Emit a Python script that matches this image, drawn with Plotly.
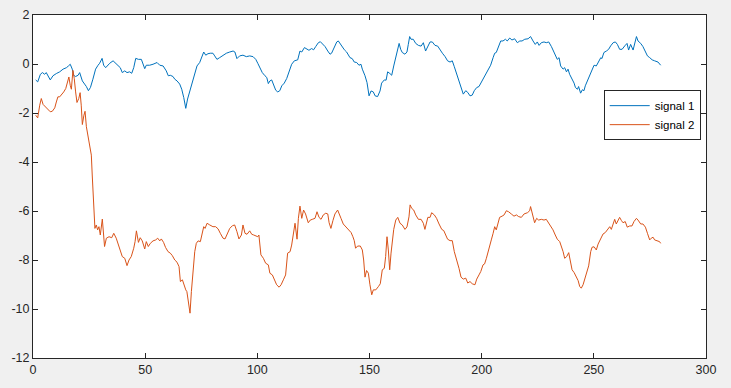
import plotly.graph_objects as go

# signal 1 (blue) vertices
s1_x = [1.2, 2.1, 3.3, 4.2, 5.2, 5.9, 7.7, 8.9, 10.4, 11.9, 13.4, 14.9, 15.8, 16.6, 17.5, 18.1, 19.0, 20.1, 20.8,
        22.0, 23.0, 23.8, 24.7, 25.6, 26.7, 27.9, 29.0, 29.7, 30.8, 31.5, 32.4, 34.2, 35.7, 37.1, 38.9, 39.8, 40.9,
        41.9, 43.1, 44.0, 44.9, 45.8, 47.0, 48.3, 49.8, 50.5, 52.0, 53.5, 55.3, 56.5, 58.0, 59.4, 60.3, 61.2, 62.4,
        63.2, 64.2, 65.4, 66.3, 67.2, 68.1, 68.9, 69.8, 70.7, 71.6, 72.5, 73.1, 74.3, 75.0, 76.1, 77.0, 78.0, 79.0,
        80.2, 81.0, 82.0, 83.2, 84.7, 86.2, 87.7, 89.2, 90.0, 90.9, 92.1, 93.6, 95.1, 96.6, 98.1, 99.3,
        100.2, 101.2, 102.2, 103.4, 104.2, 104.9, 105.6, 106.4, 107.1, 108.2, 109.1, 110.0, 110.9, 112.0, 113.1,
        114.1, 115.3, 116.5, 118.0, 119.0, 119.8, 121.0, 122.0, 123.0, 124.2, 125.1, 126.0, 127.2, 128.1, 129.0,
        130.2, 131.4, 132.4, 133.1, 134.3, 135.4, 136.1, 137.0, 137.9, 138.8, 139.8, 140.6, 141.3, 142.3, 143.2,
        144.3, 145.3, 146.2, 146.8, 148.0, 148.9, 149.8, 150.7, 151.7, 152.5, 153.6, 154.7, 155.4, 156.6, 157.4,
        158.1, 159.1, 159.9, 160.8, 161.7, 162.6, 163.2, 163.9, 164.6, 165.8, 166.7, 167.3, 167.9, 168.5, 169.5,
        170.6, 171.8, 173.0, 174.0, 175.0, 176.0, 177.0, 178.0, 179.2, 180.4, 181.4, 182.5, 183.7, 184.8, 185.9,
        186.9, 187.8, 188.9, 189.9, 190.8, 191.8, 192.9, 193.8, 194.8, 195.8, 196.7, 197.8, 198.8,
        199.6, 200.6, 201.6, 202.8, 204.0, 205.1, 205.8, 206.5, 207.6, 208.5, 209.5, 210.6, 211.4, 212.5, 213.5,
        214.7, 215.9, 217.0, 218.0, 219.2, 220.7, 221.8, 222.9, 223.9, 224.8, 225.6, 226.6, 227.8, 228.8, 229.9,
        231.1, 232.3, 232.8, 233.7, 234.5, 235.2, 236.3, 237.0, 237.8, 238.5, 239.2, 240.3, 241.2, 241.8, 242.7,
        243.2, 244.1, 244.9, 245.6, 246.2, 247.1, 248.1, 249.2, 250.1, 251.1, 251.9, 253.1, 253.6, 254.5, 255.6,
        256.6, 257.5, 258.6, 259.6, 260.5, 261.5, 262.6, 263.8, 264.8, 265.5, 266.4, 267.5, 268.2, 269.0, 269.7,
        270.9, 271.9, 273.0, 273.9, 274.9, 276.0, 277.1, 278.6, 279.8]
s1_y = [-0.65, -0.73, -0.42, -0.35, -0.42, -0.35, -0.65, -0.48, -0.39, -0.32, -0.21, -0.15, -0.08, -0.01, -0.21,
        -0.46, -0.51, -0.46, -0.35, -0.69, -0.82, -0.92, -1.09, -0.96, -0.62, -0.21, -0.05, 0.03, 0.23, -0.05, -0.15,
        0.03, 0.13, -0.01, -0.15, -0.35, -0.28, -0.35, -0.32, -0.38, -0.15, 0.23, 0.19, 0.19, -0.19, -0.05, -0.05,
        -0.01, 0.06, -0.05, -0.08, -0.28, -0.48, -0.46, -0.51, -0.62, -0.69, -0.82, -1.03, -1.37, -1.81, -1.43,
        -1.16, -0.89, -0.62, -0.35, -0.08, 0.06, 0.22, 0.49, 0.36, 0.42, 0.44, 0.44, 0.33, 0.19, 0.26, 0.36, 0.44,
        0.49, 0.53, 0.49, 0.22, 0.33, 0.36, 0.30, 0.33, 0.30, 0.19,
        0.03, -0.15, -0.35, -0.48, -0.55, -0.80, -0.69, -0.65, -0.82, -1.07, -1.14, -1.09, -0.89, -0.78, -0.59,
        -0.28, -0.01, 0.13, 0.17, 0.53, 0.49, 0.67, 0.60, 0.56, 0.63, 0.58, 0.71, 0.87, 0.91, 0.84, 0.71, 0.53,
        0.40, 0.44, 0.71, 0.90, 0.94, 0.80, 0.71, 0.58, 0.49, 0.33, 0.26, 0.22, 0.08, 0.06, -0.05, -0.01, -0.21,
        -0.48, -0.76, -1.30, -1.10, -1.14, -1.30, -1.33, -1.10, -0.78, -0.65, -0.66, -0.32, -0.39, -0.46, -0.08,
        0.26, 0.60, 0.84, 0.60, 0.47, 0.40, 0.49, 0.80, 1.12, 1.01, 1.01, 0.84, 0.76, 0.73, 0.87, 0.53, 0.73, 0.90,
        0.90, 0.76, 0.73, 0.58, 0.44, 0.30, 0.13, 0.08, 0.13, -0.11, -0.42, -0.76, -1.03, -1.23, -1.09, -1.16,
        -1.30, -1.27, -1.09, -0.96, -0.92,
        -0.78, -0.65, -0.46, -0.24, -0.05, 0.26, 0.44, 0.47, 0.74, 0.94, 0.94, 1.01, 0.94, 1.06, 0.98, 1.03, 0.87,
        0.94, 0.94, 1.01, 1.03, 1.12, 0.94, 0.80, 0.90, 0.76, 0.87, 0.90, 0.87, 0.90, 0.71, 0.47, 0.33, 0.19, 0.26,
        -0.08, -0.21, -0.15, -0.32, -0.21, -0.42, -0.62, -0.78, -0.96, -1.03, -0.92, -1.19, -1.05, -1.09, -0.89,
        -0.69, -0.48, -0.21, -0.05, -0.08, 0.08, 0.26, 0.22, 0.47, 0.53, 0.60, 0.74, 0.87, 0.90, 0.80, 0.60, 0.60,
        0.74, 0.84, 0.57, 0.80, 0.57, 0.80, 1.12, 0.94, 0.84, 0.71, 0.53, 0.33, 0.26, 0.17, 0.13, 0.08, -0.05]

# signal 2 (orange) vertices
s2_x = [1.2, 2.1, 3.0, 3.7, 4.5, 5.6, 6.7, 7.7, 8.6, 9.7, 10.4, 11.1, 11.9, 12.8, 13.7, 14.6, 15.3, 16.0, 16.6,
        17.1, 17.8, 18.4, 19.0, 19.6, 20.4, 21.0, 21.5, 22.0, 22.7, 23.2, 23.8, 24.5, 25.3, 26.0, 26.4, 27.0, 27.6,
        28.2, 28.8, 29.4, 30.0, 30.9, 31.5, 31.9, 32.7, 33.9, 35.1, 36.0, 37.1, 37.9, 38.9, 39.8, 40.9, 41.9, 42.8,
        43.8, 44.9, 45.5, 46.1, 47.0, 47.8, 48.7, 49.8, 50.5, 51.4, 52.3, 53.5, 54.7, 55.6, 56.5, 57.2, 58.2, 59.1,
        60.2, 61.2, 62.1, 63.2, 64.2, 65.1, 65.7, 66.6, 67.2, 68.1, 68.6, 69.2, 70.0, 70.6, 71.3, 72.1, 72.8, 73.6,
        74.6, 75.5, 76.1, 76.7, 77.6, 78.8, 80.2, 81.4, 82.5, 83.5, 84.7, 85.6, 86.5, 87.7, 88.9, 89.9, 90.9, 91.8,
        92.9, 93.6, 94.5, 95.4, 96.6, 97.5, 98.4, 99.3,
        100.2, 100.7, 101.6, 102.7, 103.7, 104.9, 105.6, 106.7, 107.6, 108.6, 109.7, 110.6, 111.6, 112.6, 113.5,
        114.6, 115.3, 116.0, 116.8, 117.7, 118.3, 119.0, 119.8, 120.6, 121.5, 122.7, 123.6, 124.5, 125.7, 126.6,
        127.5, 128.4, 129.4, 130.5, 131.4, 132.0, 132.8, 133.7, 134.6, 135.8, 136.4, 137.3, 138.3, 139.4, 140.6,
        141.8, 142.6, 143.2, 143.8, 144.7, 145.9, 146.8, 147.4, 148.0, 148.7, 149.5, 150.2, 151.0, 151.7, 152.8,
        154.0, 154.8, 155.7, 156.6, 157.2, 157.8, 158.4, 159.0, 159.6, 160.2, 160.8, 161.7, 162.6, 163.6, 164.6,
        165.8, 166.7, 167.6, 168.1, 168.8, 169.7, 170.6, 171.8, 173.0, 174.0, 174.7, 175.5, 176.0, 177.0, 177.7,
        178.9, 179.9, 181.0, 182.2, 183.1, 184.0, 184.8, 185.9, 186.9, 187.8, 188.9, 189.9, 190.8, 191.8, 192.9,
        193.8, 194.8, 195.8, 197.0, 197.8, 198.8,
        199.6, 200.6, 201.3, 202.1, 202.8, 203.6, 204.3, 205.1, 205.8, 206.5, 207.3, 208.0, 209.1, 210.0, 211.0,
        212.0, 213.2, 214.4, 215.5, 216.5, 217.7, 218.9, 220.4, 221.4, 221.8, 222.6, 223.6, 224.5, 225.4, 226.6,
        227.8, 228.8, 229.9, 230.8, 231.8, 232.8, 233.7, 234.8, 235.5, 236.3, 237.0, 237.9, 238.8, 239.7, 240.3,
        241.2, 242.2, 243.0, 243.7, 244.4, 245.2, 245.9, 246.8, 247.7, 248.6, 249.2, 250.1, 251.1, 251.9, 253.1,
        254.1, 255.1, 256.3, 257.1, 257.8, 258.5, 259.3, 260.0, 260.8, 261.5, 262.3, 263.0, 264.0, 264.9, 266.0,
        267.0, 267.9, 269.0, 269.7, 270.9, 271.9, 273.0, 273.9, 274.9, 275.6, 276.4, 277.1, 278.3, 279.3, 279.8]
s2_y = [-2.09, -2.20, -1.68, -1.41, -1.65, -1.75, -1.82, -1.95, -1.93, -1.79, -1.55, -1.34, -1.34, -1.25, -1.14,
        -1.00, -0.76, -0.53, -0.87, -1.03, -0.26, -0.60, -1.14, -1.57, -1.41, -1.17, -1.68, -2.47, -2.09, -1.93,
        -2.56, -2.97, -3.31, -3.72, -4.53, -5.76, -6.71, -6.57, -6.77, -6.64, -6.98, -6.33, -6.91, -7.45, -7.11,
        -7.05, -7.09, -6.91, -7.11, -7.32, -7.55, -7.86, -7.93, -8.23, -8.00, -7.86, -7.52, -7.25, -6.81, -7.28,
        -7.09, -7.22, -7.55, -7.25, -7.45, -7.32, -7.22, -7.18, -7.11, -7.22, -7.14, -7.28, -7.49, -7.66, -7.72,
        -7.82, -8.00, -8.09, -8.27, -8.88, -8.81, -9.01, -9.22, -9.29, -9.69, -10.17, -9.29, -8.40, -7.66, -7.32,
        -7.22, -7.25, -6.84, -6.64, -6.71, -6.50, -6.57, -6.64, -6.64, -6.73, -6.91, -7.11, -7.14, -6.98, -6.71,
        -6.60, -6.57, -6.84, -7.14, -6.98, -6.57, -6.91, -6.95, -6.81, -6.95, -6.98, -7.00,
        -7.05, -6.98, -7.79, -7.93, -8.13, -8.20, -8.54, -8.61, -8.81, -9.01, -9.11, -9.01, -8.81, -8.61, -7.72,
        -7.66, -7.39, -6.98, -6.50, -7.15, -6.30, -5.80, -6.30, -5.96, -6.12, -6.48, -6.37, -6.34, -6.30, -6.03,
        -6.26, -6.34, -6.16, -6.09, -6.12, -6.48, -6.71, -6.39, -6.12, -5.96, -6.07, -6.30, -6.53, -6.63, -6.77,
        -6.88, -7.05, -7.21, -7.52, -7.43, -7.43, -7.59, -8.00, -8.70, -8.43, -8.54, -9.01, -9.42, -9.22, -9.22,
        -9.08, -8.97, -8.40, -8.34, -7.86, -7.05, -7.59, -8.40, -7.72, -7.05, -6.75, -6.37, -6.26, -6.50, -6.57,
        -6.75, -6.65, -6.24, -5.75, -5.89, -5.96, -6.16, -6.34, -6.34, -6.50, -6.75, -6.50, -6.26, -6.26, -6.07,
        -6.16, -6.30, -6.53, -6.75, -6.80, -6.98, -7.15, -7.21, -7.21, -7.66, -8.00, -8.34, -8.70, -8.78, -8.74,
        -8.94, -8.88, -8.97, -9.01, -8.78, -8.61,
        -8.47, -8.20, -8.16, -7.93, -7.66, -7.46, -7.18, -6.91, -6.64, -6.77, -6.43, -6.26, -6.21, -6.16, -5.99,
        -6.03, -6.12, -6.21, -6.16, -6.23, -6.26, -6.12, -6.07, -5.99, -5.82, -6.12, -6.48, -6.30, -6.37, -6.34,
        -6.37, -6.34, -6.48, -6.64, -6.77, -6.98, -7.15, -7.25, -7.43, -7.66, -7.93, -7.86, -7.70, -8.13, -8.40,
        -8.51, -8.70, -8.84, -9.08, -9.15, -9.01, -8.78, -8.54, -8.24, -7.66, -7.48, -7.46, -7.59, -7.35, -7.12,
        -6.94, -6.88, -6.71, -6.64, -6.75, -6.57, -6.34, -6.53, -6.39, -6.26, -6.39, -6.48, -6.43, -6.66, -6.61,
        -6.61, -6.43, -6.30, -6.37, -6.53, -6.53, -6.66, -6.91, -7.18, -7.11, -7.07, -7.18, -7.21, -7.25, -7.32]

x_ticks = [0, 50, 100, 150, 200, 250, 300]
y_ticks = [-12, -10, -8, -6, -4, -2, 0, 2]

axis_col = "#262626"
font = dict(family="Liberation Sans, Arial, sans-serif", size=12.5, color=axis_col)

fig = go.Figure()
fig.add_trace(go.Scatter(x=s1_x, y=s1_y, mode="lines", name="signal 1",
                         line=dict(color="#0072BD", width=1)))
fig.add_trace(go.Scatter(x=s2_x, y=s2_y, mode="lines", name="signal 2",
                         line=dict(color="#D95319", width=1)))

axis_common = dict(showline=True, linecolor=axis_col, linewidth=1, mirror="ticks",
                   ticks="inside", ticklen=5, tickcolor=axis_col, tickwidth=1,
                   showgrid=False, zeroline=False, tickfont=font, automargin=False)
fig.update_xaxes(range=[0, 300], tickvals=x_ticks, ticktext=[str(v) for v in x_ticks], **axis_common)
fig.update_yaxes(range=[-12, 2], tickvals=y_ticks, ticktext=[str(v) for v in y_ticks], **axis_common)

fig.update_layout(
    width=731, height=388,
    margin=dict(l=33, r=25, t=15, b=30),
    paper_bgcolor="#f0f0f0", plot_bgcolor="white",
    font=font,
    showlegend=True,
    legend=dict(x=0.848, y=0.708, xanchor="left", yanchor="middle",
                bgcolor="white", bordercolor=axis_col, borderwidth=1,
                font=dict(family="Liberation Sans, Arial, sans-serif", size=11.5, color="black"),
                itemwidth=40, tracegroupgap=0),
)

fig.write_html(
    "out.html",
    config={"displayModeBar": False},
    post_script="document.body.style.margin='0';document.body.style.background='#f0f0f0';",
)
